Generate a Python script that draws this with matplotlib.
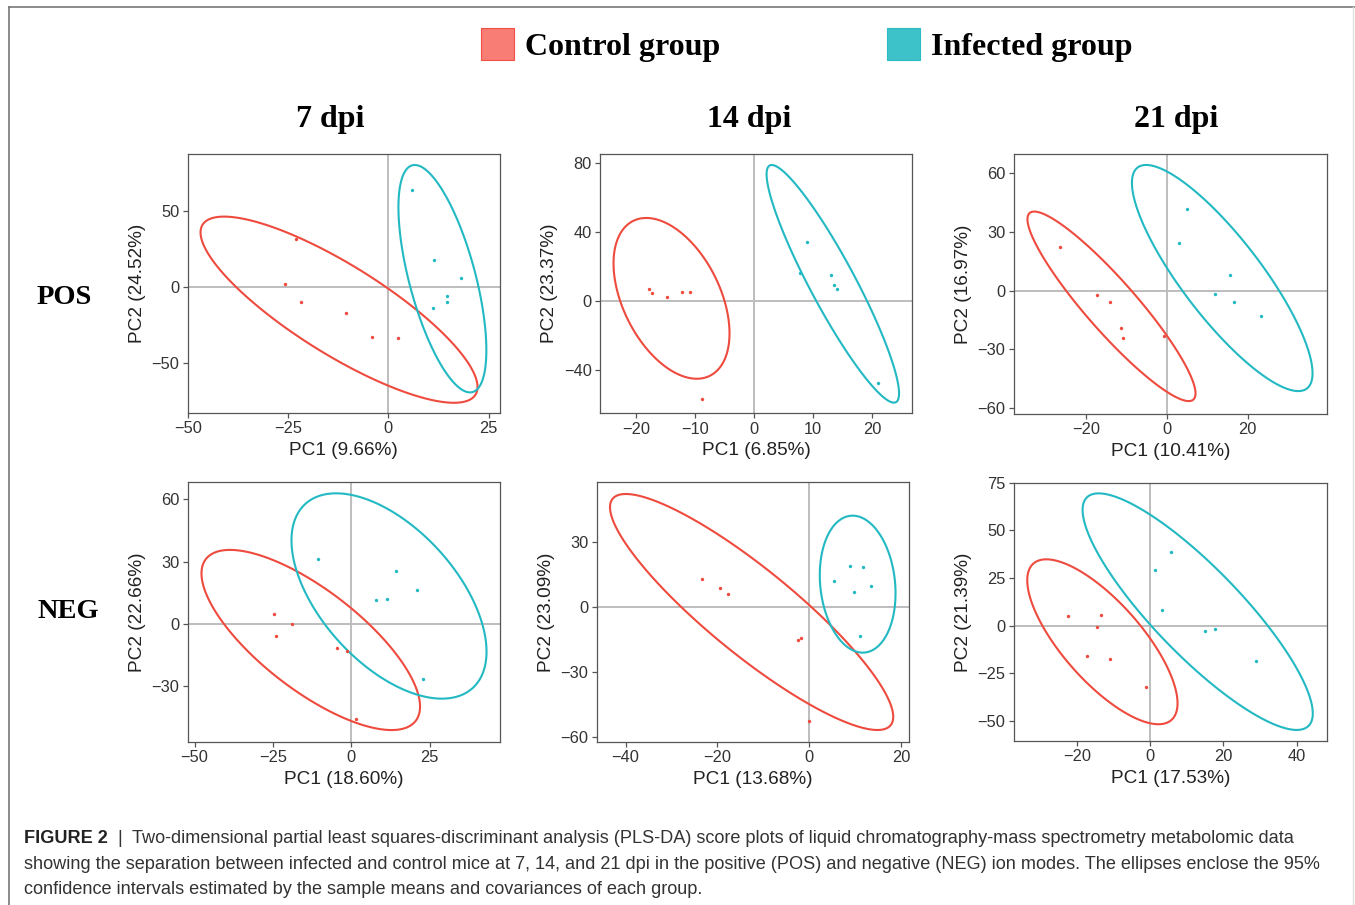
import numpy as np
import matplotlib
matplotlib.use("Agg")
import matplotlib.pyplot as plt
from matplotlib.patches import Rectangle, Polygon
from matplotlib.lines import Line2D

W, H = 1355, 905
RED = "#EE4B3E"
CYAN = "#22B9C3"
RED_FILL = "#F8766D"
CYAN_FILL = "#33BFC8"
SANS = "Liberation Sans"
SERIF = "Liberation Serif"

# PLS-DA scores, order: 7 POS, 14 POS, 21 POS, 7 NEG, 14 NEG, 21 NEG
ctrl_x = [
    [-22.9, -25.7, -21.8, -10.6, -4.2, 2.5],
    [-17.9, -17.3, -14.9, -12.3, -10.9, -8.9],
    [-26.3, -17.3, -14.1, -11.4, -10.8, -0.7],
    [-24.8, -24.1, -18.8, -4.5, -1.5, 1.6],
    [-23.4, -19.4, -17.6, -2.4, -1.7, -0.1],
    [-22.5, -13.3, -14.6, -17.2, -10.8, -1.1],
]
ctrl_y = [
    [31.2, 1.7, -9.8, -17.2, -32.5, -33.6],
    [6.8, 4.5, 2.1, 5.0, 5.4, -57.0],
    [22.5, -2.0, -5.8, -18.9, -24.2, -23.2],
    [5.0, -5.6, 0.0, -11.7, -13.0, -45.8],
    [12.9, 8.9, 6.0, -15.2, -14.3, -52.3],
    [4.9, 5.4, -0.7, -15.7, -17.5, -32.0],
]
inf_x = [
    [5.9, 11.4, 18.2, 14.7, 14.5, 11.0],
    [8.9, 7.7, 13.0, 13.5, 14.0, 21.0],
    [5.0, 2.9, 15.6, 11.9, 16.5, 23.3],
    [-10.5, 14.1, 20.8, 8.0, 11.3, 22.7],
    [8.8, 11.7, 5.3, 13.4, 9.8, 11.0],
    [5.8, 1.3, 3.2, 15.0, 17.7, 28.9],
]
inf_y = [
    [63.3, 17.9, 5.9, -5.7, -9.8, -14.0],
    [34.5, 16.1, 14.9, 9.5, 6.8, -47.9],
    [41.6, 24.2, 8.0, -1.9, -5.8, -13.1],
    [31.1, 25.5, 16.2, 11.4, 11.9, -26.6],
    [19.2, 18.5, 12.2, 9.8, 6.9, -13.2],
    [38.8, 29.4, 8.2, -2.8, -1.6, -18.5],
]

# 95% ellipses: centre x, centre y, half width, half height, correlation
ctrl_ell = [
    [-12.3, -14.85, 34.5, 60.95, -0.83],
    [-14.05, 1.55, 9.85, 46.75, -0.435],
    [-13.65, -8.0, 20.75, 48.4, -0.919],
    [-12.95, -7.7, 34.85, 43.3, -0.739],
    [-12.55, -2.15, 30.85, 54.45, -0.888],
    [-13.0, -8.45, 20.5, 43.25, -0.746],
]
inf_ell = [
    [13.45, 5.45, 10.95, 74.45, -0.628],
    [13.35, 10.0, 11.25, 69.1, -0.922],
    [13.7, 6.45, 22.3, 57.75, -0.842],
    [12.0, 13.45, 31.1, 49.35, -0.542],
    [10.55, 10.7, 8.25, 31.6, -0.133],
    [13.0, 7.35, 31.4, 62.05, -0.86],
]

pc1 = ["9.66%", "6.85%", "10.41%", "18.60%", "13.68%", "17.53%"]
pc2 = ["24.52%", "23.37%", "16.97%", "22.66%", "23.09%", "21.39%"]
xlims = [(-50, 27.8), (-26.2, 26.8), (-37.8, 39.5), (-52.2, 47.4), (-46.3, 21.8), (-37.2, 48.2)]
ylims = [(-82.3, 87.1), (-65.3, 85.5), (-63, 69.8), (-56.6, 68.1), (-62, 57.7), (-60.5, 75)]
xticks = [[-50, -25, 0, 25], [-20, -10, 0, 10, 20], [-20, 0, 20],
          [-50, -25, 0, 25], [-40, -20, 0, 20], [-20, 0, 20, 40]]
yticks = [[-50, 0, 50], [-40, 0, 40, 80], [-60, -30, 0, 30, 60],
          [-30, 0, 30, 60], [-60, -30, 0, 30], [-50, -25, 0, 25, 50, 75]]
titles = ["7 dpi", "14 dpi", "21 dpi"]
rows = ["POS", "NEG"]

# panel frames in pixels: left, right, top, bottom
boxes = [
    (187.7, 500, 154, 412.7), (600, 912, 154, 413.3), (1013.7, 1326.7, 154, 414),
    (187.7, 500, 482.3, 741.7), (596.7, 909.3, 482.3, 741.7), (1013.7, 1326.7, 482.7, 741),
]


def ellipse(p):
    cx, cy, hx, hy, r = p
    t = np.linspace(0, 2 * np.pi, 300, endpoint=False)
    x = cx + hx * np.cos(t)
    y = cy + hy * (r * np.cos(t) + np.sqrt(1 - r * r) * np.sin(t))
    return np.column_stack([x, y])


fig = plt.figure(figsize=(W / 100, H / 100), dpi=100)

for i, (l, r, t, b) in enumerate(boxes):
    ax = fig.add_axes([l / W, 1 - b / H, (r - l) / W, (b - t) / H])
    ax.axhline(0, color="#BDBDBD", lw=1.4, zorder=1)
    ax.axvline(0, color="#BDBDBD", lw=1.4, zorder=1)
    ax.add_patch(Polygon(ellipse(ctrl_ell[i]), closed=True, fill=False,
                         edgecolor=RED, lw=1.5, zorder=2))
    ax.add_patch(Polygon(ellipse(inf_ell[i]), closed=True, fill=False,
                         edgecolor=CYAN, lw=1.5, zorder=2))
    ax.scatter(ctrl_x[i], ctrl_y[i], s=6, color=RED, lw=0, zorder=3)
    ax.scatter(inf_x[i], inf_y[i], s=6, color=CYAN, lw=0, zorder=3)
    ax.set_xlim(*xlims[i])
    ax.set_ylim(*ylims[i])
    ax.set_xticks(xticks[i])
    ax.set_yticks(yticks[i])
    for s in ax.spines.values():
        s.set_color("#555555")
        s.set_linewidth(0.9)
    ax.tick_params(length=3.5, width=0.9, color="#555555", pad=2.5,
                   labelsize=11.8, labelcolor="#333333")
    for lab in ax.get_xticklabels() + ax.get_yticklabels():
        lab.set_family(SANS)
    ax.set_xlabel("PC1 (%s)" % pc1[i], family=SANS, fontsize=13.7, color="#222222", labelpad=4)
    ax.set_ylabel("PC2 (%s)" % pc2[i], family=SANS, fontsize=13.7, color="#222222", labelpad=4)

# column titles and row labels
for x, txt in zip([330, 749, 1176], titles):
    fig.text(x / W, 1 - 119 / H, txt, family=SERIF, weight="bold", fontsize=23,
             ha="center", va="center")
for y, txt in zip([297, 612], rows):
    fig.text(37 / W, 1 - y / H, txt, family=SERIF, weight="bold", fontsize=20.5,
             ha="left", va="center")

# legend
for px, fill, edge, txt in [(481, RED_FILL, RED, "Control group"),
                            (887, CYAN_FILL, CYAN, "Infected group")]:
    fig.patches.append(Rectangle((px / W, 1 - 60 / H), 33 / W, 32 / H, transform=fig.transFigure,
                                 facecolor=fill, edgecolor=edge, lw=0.8, alpha=0.95))
    fig.text((px + 44) / W, 1 - 48 / H, txt, family=SERIF, weight="bold", fontsize=23,
             ha="left", va="center")

# border of the figure box
fig.lines.append(Line2D([9 / W, 1], [1 - 7 / H, 1 - 7 / H], transform=fig.transFigure,
                        color="#777777", lw=1.2))
fig.lines.append(Line2D([9 / W, 9 / W], [0, 1 - 7 / H], transform=fig.transFigure,
                        color="#777777", lw=1.2))
fig.lines.append(Line2D([1353 / W, 1353 / W], [0, 1 - 7 / H], transform=fig.transFigure,
                        color="#DDDDDD", lw=1.0))

# caption
cap = "#333333"
cs = 13.05
fig.text(24 / W, 1 - 838 / H, "FIGURE 2", family=SANS, weight="bold", fontsize=cs,
         color="#222222", ha="left", va="center")
fig.text(117 / W, 1 - 838 / H, "|", family=SANS, fontsize=cs, color=cap, ha="left", va="center")
fig.text(132 / W, 1 - 838 / H,
         "Two-dimensional partial least squares-discriminant analysis (PLS-DA) score plots of "
         "liquid chromatography-mass spectrometry metabolomic data",
         family=SANS, fontsize=cs, color=cap, ha="left", va="center")
fig.text(24 / W, 1 - 864 / H,
         "showing the separation between infected and control mice at 7, 14, and 21 dpi in the "
         "positive (POS) and negative (NEG) ion modes. The ellipses enclose the 95%",
         family=SANS, fontsize=cs, color=cap, ha="left", va="center")
fig.text(24 / W, 1 - 889 / H,
         "confidence intervals estimated by the sample means and covariances of each group.",
         family=SANS, fontsize=cs, color=cap, ha="left", va="center")

fig.savefig("out.png", dpi=100)
